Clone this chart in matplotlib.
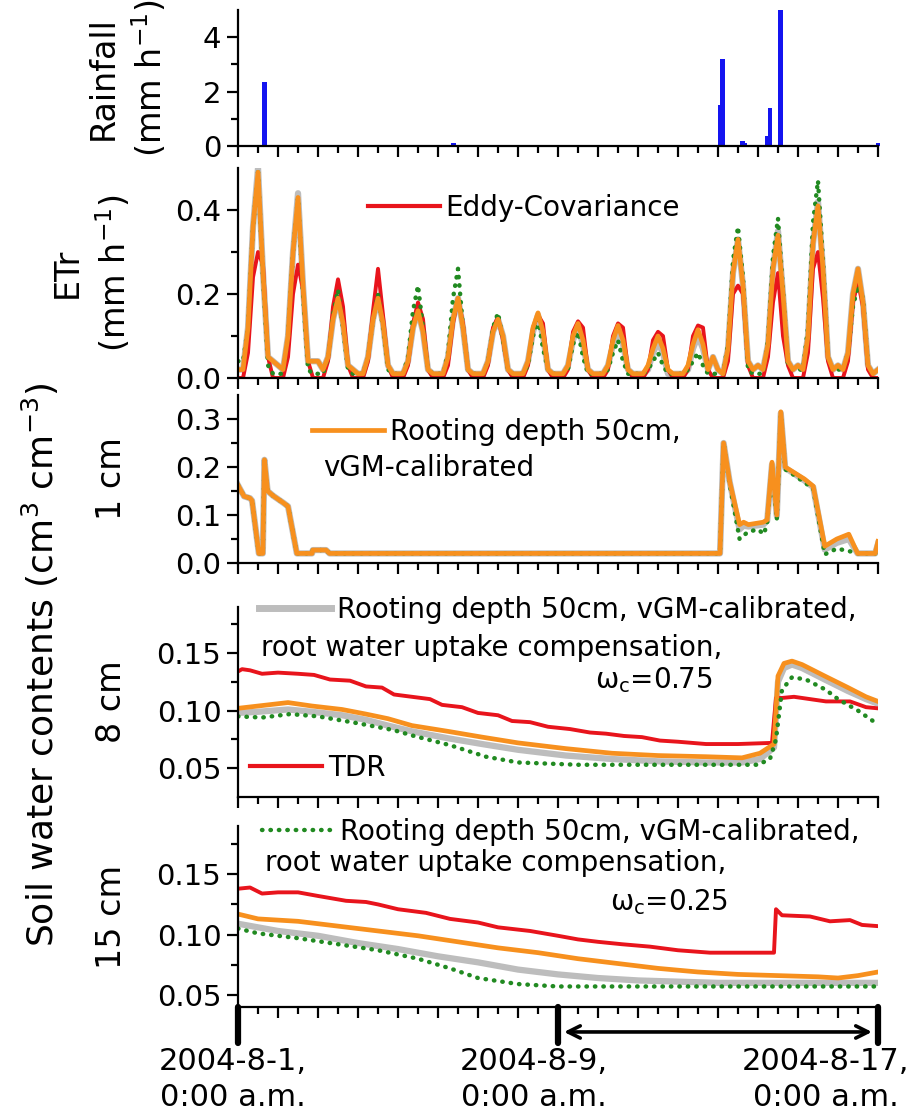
import numpy as np
import matplotlib.pyplot as plt
from matplotlib.lines import Line2D

plt.rcParams['font.family'] = ['DejaVu Sans']
plt.rcParams['mathtext.default'] = 'regular'

# colours of the series
c_rain = '#1414f0'
c_ec = '#e8141c'
c_gray = '#bdbdbd'
c_orange = '#f7901e'
c_green = '#218a21'

# ---------------- data (time in days since 2004-8-1 0:00) ----------------
rain_time = [0.00, 0.66, 5.38, 12.03, 12.07, 12.12, 12.62, 12.67, 13.24, 13.30, 13.56, 16.00]
rain_mm = [0.05, 2.35, 0.10, 0.05, 1.50, 3.20, 0.20, 0.10, 0.35, 1.40, 5.00, 0.10]

# ETr, 3-hourly, hours 0,3,...,21 of each day, last value = day 16 0:00
etr_hours = [0, 3, 6, 9, 12, 15, 18, 21]
etr_ec = [
    0.00, 0.00, 0.06, 0.24, 0.30, 0.27, 0.05, 0.00,
    0.00, 0.00, 0.05, 0.20, 0.27, 0.21, 0.04, 0.00,
    0.00, 0.00, 0.04, 0.17, 0.235, 0.17, 0.03, 0.00,
    0.00, 0.00, 0.04, 0.16, 0.26, 0.15, 0.03, 0.00,
    0.00, 0.00, 0.03, 0.13, 0.18, 0.14, 0.02, 0.00,
    0.00, 0.00, 0.03, 0.13, 0.19, 0.13, 0.02, 0.00,
    0.00, 0.00, 0.03, 0.12, 0.145, 0.09, 0.02, 0.00,
    0.00, 0.00, 0.03, 0.12, 0.15, 0.13, 0.02, 0.00,
    0.00, 0.00, 0.02, 0.11, 0.135, 0.12, 0.02, 0.00,
    0.00, 0.00, 0.02, 0.10, 0.13, 0.12, 0.02, 0.00,
    0.00, 0.00, 0.02, 0.09, 0.11, 0.10, 0.02, 0.00,
    0.00, 0.00, 0.02, 0.10, 0.125, 0.12, 0.02, 0.00,
    0.00, 0.00, 0.04, 0.20, 0.22, 0.20, 0.03, 0.00,
    0.00, 0.00, 0.05, 0.18, 0.25, 0.10, 0.03, 0.00,
    0.00, 0.00, 0.06, 0.26, 0.30, 0.19, 0.04, 0.00,
    0.00, 0.00, 0.04, 0.18, 0.23, 0.17, 0.02, 0.00,
    0.00,
]
etr_gray = [
    0.02, 0.02, 0.12, 0.36, 0.50, 0.25, 0.05, 0.04,
    0.03, 0.02, 0.10, 0.30, 0.44, 0.22, 0.04, 0.04,
    0.04, 0.02, 0.05, 0.14, 0.19, 0.13, 0.03, 0.02,
    0.01, 0.01, 0.05, 0.14, 0.19, 0.13, 0.03, 0.01,
    0.01, 0.01, 0.04, 0.12, 0.16, 0.11, 0.02, 0.01,
    0.01, 0.01, 0.05, 0.14, 0.19, 0.12, 0.02, 0.01,
    0.01, 0.01, 0.04, 0.11, 0.14, 0.10, 0.02, 0.01,
    0.01, 0.01, 0.04, 0.11, 0.15, 0.10, 0.02, 0.01,
    0.01, 0.01, 0.03, 0.09, 0.12, 0.08, 0.02, 0.01,
    0.01, 0.01, 0.03, 0.08, 0.11, 0.08, 0.02, 0.01,
    0.01, 0.01, 0.02, 0.06, 0.085, 0.06, 0.01, 0.01,
    0.01, 0.01, 0.02, 0.07, 0.10, 0.07, 0.02, 0.05,
    0.02, 0.01, 0.07, 0.25, 0.33, 0.22, 0.04, 0.02,
    0.03, 0.02, 0.08, 0.26, 0.35, 0.20, 0.04, 0.02,
    0.03, 0.02, 0.10, 0.32, 0.42, 0.26, 0.05, 0.02,
    0.03, 0.02, 0.06, 0.20, 0.26, 0.18, 0.03, 0.01,
    0.02,
]
etr_orange = [
    0.02, 0.02, 0.12, 0.36, 0.49, 0.25, 0.05, 0.04,
    0.03, 0.02, 0.10, 0.30, 0.43, 0.22, 0.04, 0.04,
    0.04, 0.02, 0.05, 0.14, 0.19, 0.13, 0.03, 0.02,
    0.01, 0.01, 0.05, 0.14, 0.19, 0.13, 0.03, 0.01,
    0.01, 0.01, 0.04, 0.12, 0.16, 0.11, 0.02, 0.01,
    0.01, 0.01, 0.05, 0.14, 0.19, 0.12, 0.02, 0.01,
    0.01, 0.01, 0.04, 0.11, 0.14, 0.10, 0.02, 0.01,
    0.01, 0.01, 0.04, 0.12, 0.155, 0.11, 0.02, 0.01,
    0.01, 0.01, 0.03, 0.10, 0.13, 0.09, 0.02, 0.01,
    0.01, 0.01, 0.03, 0.09, 0.125, 0.09, 0.02, 0.01,
    0.01, 0.01, 0.03, 0.07, 0.10, 0.07, 0.02, 0.01,
    0.01, 0.01, 0.03, 0.08, 0.115, 0.08, 0.02, 0.05,
    0.02, 0.01, 0.07, 0.25, 0.33, 0.22, 0.04, 0.02,
    0.03, 0.02, 0.08, 0.26, 0.34, 0.20, 0.04, 0.02,
    0.03, 0.02, 0.10, 0.32, 0.41, 0.26, 0.05, 0.02,
    0.03, 0.02, 0.06, 0.20, 0.26, 0.18, 0.03, 0.01,
    0.02,
]
etr_green = [
    0.04, 0.04, 0.12, 0.36, 0.49, 0.24, 0.03, 0.01,
    0.01, 0.01, 0.10, 0.30, 0.43, 0.20, 0.02, 0.01,
    0.01, 0.01, 0.05, 0.15, 0.21, 0.12, 0.02, 0.01,
    0.01, 0.01, 0.05, 0.14, 0.20, 0.12, 0.02, 0.01,
    0.01, 0.01, 0.05, 0.16, 0.22, 0.12, 0.02, 0.01,
    0.01, 0.01, 0.06, 0.19, 0.26, 0.12, 0.02, 0.01,
    0.01, 0.01, 0.04, 0.12, 0.155, 0.09, 0.02, 0.01,
    0.01, 0.01, 0.03, 0.10, 0.14, 0.07, 0.02, 0.01,
    0.01, 0.01, 0.02, 0.08, 0.11, 0.05, 0.01, 0.01,
    0.01, 0.01, 0.02, 0.06, 0.09, 0.04, 0.01, 0.01,
    0.01, 0.01, 0.02, 0.04, 0.06, 0.03, 0.01, 0.01,
    0.01, 0.01, 0.02, 0.04, 0.06, 0.03, 0.01, 0.01,
    0.01, 0.01, 0.08, 0.28, 0.36, 0.24, 0.02, 0.01,
    0.01, 0.01, 0.09, 0.29, 0.38, 0.21, 0.03, 0.02,
    0.02, 0.02, 0.12, 0.37, 0.47, 0.28, 0.05, 0.02,
    0.02, 0.02, 0.06, 0.17, 0.22, 0.19, 0.03, 0.01,
    0.01,
]
etr_time = [d + h / 24 for d in range(16) for h in etr_hours] + [16]

# soil water content at 1 cm
sw1_orange_t = [0.00, 0.15, 0.30, 0.35, 0.52, 0.62, 0.66, 0.74, 0.88, 1.14, 1.25, 1.47,
                1.85, 1.87, 2.20, 2.29, 12.05, 12.14, 12.29, 12.54, 12.64, 12.76, 13.13,
                13.23, 13.35, 13.47, 13.57, 13.68, 13.87, 14.16, 14.38, 14.67, 14.97,
                15.27, 15.49, 15.93, 16.00]
sw1_orange = [0.162, 0.139, 0.135, 0.130, 0.020, 0.020, 0.215, 0.150, 0.140, 0.125, 0.118,
              0.020, 0.020, 0.027, 0.027, 0.020, 0.020, 0.250, 0.170, 0.080, 0.085, 0.080,
              0.085, 0.090, 0.210, 0.100, 0.315, 0.200, 0.190, 0.175, 0.160, 0.035, 0.050,
              0.060, 0.020, 0.020, 0.045]
sw1_gray = [0.162, 0.139, 0.135, 0.130, 0.020, 0.020, 0.215, 0.150, 0.140, 0.125, 0.118,
            0.020, 0.020, 0.027, 0.027, 0.020, 0.020, 0.250, 0.170, 0.070, 0.078, 0.076,
            0.080, 0.088, 0.205, 0.098, 0.312, 0.198, 0.188, 0.172, 0.158, 0.028, 0.042,
            0.050, 0.020, 0.020, 0.040]
sw1_green_t = [0.00, 0.15, 0.30, 0.35, 0.52, 0.62, 0.66, 0.74, 0.88, 1.14, 1.25, 1.47,
               1.85, 1.87, 2.20, 2.29, 12.05, 12.14, 12.29, 12.54, 12.75, 13.00, 13.15,
               13.23, 13.35, 13.47, 13.57, 13.68, 13.87, 14.16, 14.38, 14.67, 14.97,
               15.27, 15.49, 15.93, 16.00]
sw1_green = [0.162, 0.139, 0.135, 0.130, 0.020, 0.020, 0.215, 0.150, 0.140, 0.125, 0.118,
             0.020, 0.020, 0.027, 0.027, 0.020, 0.020, 0.250, 0.165, 0.050, 0.065, 0.070,
             0.060, 0.085, 0.200, 0.090, 0.310, 0.195, 0.185, 0.168, 0.155, 0.018, 0.030,
             0.025, 0.020, 0.020, 0.030]

# soil water content at 8 cm
sw8_tdr_t = [0.0, 0.1, 0.3, 0.6, 1.0, 1.5, 1.9, 2.3, 2.8, 3.2, 3.6, 3.9, 4.35, 4.8, 5.1,
             5.6, 6.0, 6.5, 6.85, 7.3, 7.75, 8.3, 8.8, 9.2, 9.65, 10.1, 10.55, 11.0, 11.7,
             12.5, 13.35, 13.45, 13.6, 13.9, 14.3, 14.7, 15.3, 15.7, 16.0]
sw8_tdr = [0.134, 0.136, 0.135, 0.132, 0.133, 0.132, 0.131, 0.127, 0.126, 0.121, 0.120,
           0.114, 0.112, 0.110, 0.105, 0.103, 0.098, 0.096, 0.091, 0.090, 0.086, 0.084,
           0.081, 0.080, 0.078, 0.077, 0.074, 0.073, 0.071, 0.071, 0.072, 0.111, 0.111,
           0.112, 0.110, 0.108, 0.108, 0.103, 0.102]
sw8_sim_t = [0.0, 0.5, 1.25, 1.85, 2.6, 3.2, 3.75, 4.35, 5.25, 6.1, 7.0, 8.2, 9.35, 10.5,
             11.7, 12.6, 13.05, 13.4, 13.5, 13.65, 13.85, 14.1, 14.67, 15.25, 15.7, 16.0]
sw8_orange = [0.102, 0.104, 0.107, 0.104, 0.101, 0.097, 0.093, 0.087, 0.082, 0.077, 0.072,
              0.067, 0.063, 0.061, 0.060, 0.059, 0.063, 0.071, 0.130, 0.141, 0.143, 0.140,
              0.130, 0.120, 0.112, 0.108]
sw8_gray = [0.098, 0.099, 0.101, 0.099, 0.096, 0.092, 0.087, 0.082, 0.076, 0.071, 0.066,
            0.061, 0.058, 0.056, 0.055, 0.055, 0.058, 0.068, 0.125, 0.137, 0.140, 0.137,
            0.127, 0.117, 0.110, 0.106]
sw8_green_t = [0.0, 0.6, 1.3, 2.0, 3.0, 3.9, 4.4, 5.3, 6.2, 7.0, 8.5, 13.0, 13.3, 13.45,
               13.6, 13.85, 14.2, 14.7, 15.0, 15.5, 16.0]
sw8_green = [0.095, 0.094, 0.097, 0.095, 0.089, 0.083, 0.078, 0.070, 0.060, 0.055, 0.053,
             0.053, 0.058, 0.075, 0.118, 0.129, 0.127, 0.118, 0.110, 0.100, 0.088]

# soil water content at 15 cm
sw15_tdr_t = [0.0, 0.3, 0.6, 1.0, 1.5, 2.0, 2.7, 3.2, 3.5, 4.0, 4.7, 5.3, 6.0, 6.5, 7.3,
              8.0, 8.5, 9.0, 9.6, 10.3, 11.0, 11.8, 13.4, 13.45, 13.6, 14.3, 14.8, 15.3,
              15.6, 16.0]
sw15_tdr = [0.138, 0.139, 0.134, 0.135, 0.135, 0.132, 0.128, 0.127, 0.125, 0.121, 0.118,
            0.113, 0.110, 0.106, 0.103, 0.099, 0.096, 0.094, 0.092, 0.090, 0.087, 0.085,
            0.085, 0.121, 0.116, 0.115, 0.111, 0.112, 0.108, 0.107]
sw15_orange_t = [0.0, 0.5, 1.5, 2.5, 3.5, 4.5, 5.5, 6.5, 7.5, 8.5, 9.5, 10.5, 11.5, 12.5,
                 13.5, 14.5, 15.0, 15.5, 16.0]
sw15_orange = [0.117, 0.113, 0.111, 0.107, 0.103, 0.099, 0.094, 0.089, 0.085, 0.080, 0.076,
               0.072, 0.069, 0.067, 0.066, 0.065, 0.064, 0.066, 0.069]
sw15_gray_t = [0, 1, 2, 3, 4, 5, 6, 7, 8, 9, 10, 11, 12, 16]
sw15_gray = [0.109, 0.103, 0.099, 0.093, 0.088, 0.082, 0.077, 0.071, 0.067, 0.064, 0.062,
             0.061, 0.060, 0.060]
sw15_green_t = [0.0, 0.5, 1.5, 2.5, 3.5, 4.5, 5.3, 6.0, 7.0, 8.0, 9.0, 16.0]
sw15_green = [0.105, 0.101, 0.097, 0.092, 0.087, 0.080, 0.072, 0.064, 0.059, 0.057, 0.057,
              0.057]

date_ticks = [0, 8, 16]
date_label_pos = [-0.12, 7.4, 14.7]
date_labels = ['2004-8-1,\n0:00 a.m.', '2004-8-9,\n0:00 a.m.', '2004-8-17,\n0:00 a.m.']

# ---------------- figure ----------------
fig = plt.figure(figsize=(9.24, 11.18), dpi=100)
L, W = 0.2576, 0.6926
ax_r = fig.add_axes([L, 0.8694, W, 0.1216])
ax_e = fig.add_axes([L, 0.6619, W, 0.1878])
ax_1 = fig.add_axes([L, 0.4964, W, 0.1503])
ax_8 = fig.add_axes([L, 0.2871, W, 0.1700])
ax_15 = fig.add_axes([L, 0.0993, W, 0.1619])

TICK_FS = 21
LAB_FS = 24
LEG_FS = 20

dot = (0, (0.1, 1.8))


def style(ax, ylim, major, labels, minor):
    ax.set_xlim(0, 16)
    ax.set_ylim(*ylim)
    for s in ['top', 'right']:
        ax.spines[s].set_visible(False)
    for s in ['left', 'bottom']:
        ax.spines[s].set_linewidth(1.6)
    ax.set_xticks(np.arange(0, 17, 1))
    ax.set_xticks(np.arange(0.5, 16, 1), minor=True)
    ax.set_yticks(major)
    ax.set_yticklabels(labels)
    ax.set_yticks(minor, minor=True)
    ax.tick_params(which='major', length=8, width=1.6, labelsize=TICK_FS, pad=4)
    ax.tick_params(which='minor', length=5, width=1.6)
    ax.tick_params(axis='x', labelbottom=False)
    ax.patch.set_alpha(0)


def ylab(ax, text, x):
    # x given in figure pixels from the left edge
    ax.text((x - 238) / 640, 0.5, text, transform=ax.transAxes, rotation=90,
            ha='center', va='center', fontsize=LAB_FS, linespacing=1.35)


def leg(ax, handle, label, anchor):
    return ax.legend(handles=[handle], labels=[label], loc='center left',
                     bbox_to_anchor=anchor, frameon=False, fontsize=LEG_FS,
                     handlelength=2.6, handletextpad=0.2, borderpad=0,
                     borderaxespad=0)


# Rainfall
ax_r.bar(rain_time, rain_mm, width=0.12, color=c_rain, clip_on=False)
style(ax_r, (0, 5), [0, 2, 4], ['0', '2', '4'], [1, 3])
ylab(ax_r, 'Rainfall\n(mm h$^{-1}$)', 128)

# ETr
ax_e.plot(etr_time, etr_gray, color=c_gray, lw=4.5)
ax_e.plot(etr_time, etr_ec, color=c_ec, lw=2.8)
ax_e.plot(etr_time, etr_green, color=c_green, lw=3.2, ls=dot, dash_capstyle='round')
ax_e.plot(etr_time, etr_orange, color=c_orange, lw=3.4)
style(ax_e, (0, 0.5), [0, 0.2, 0.4], ['0.0', '0.2', '0.4'], [0.1, 0.3])
ylab(ax_e, 'ETr\n(mm h$^{-1}$)', 92)
leg(ax_e, Line2D([], [], color=c_ec, lw=3), 'Eddy-Covariance', (0.203, 0.81))

# 1 cm
ax_1.plot(sw1_orange_t, sw1_gray, color=c_gray, lw=4.5)
ax_1.plot(sw1_green_t, sw1_green, color=c_green, lw=3.2, ls=dot, dash_capstyle='round')
ax_1.plot(sw1_orange_t, sw1_orange, color=c_orange, lw=3.4)
style(ax_1, (0, 0.35), [0, 0.1, 0.2, 0.3], ['0.0', '0.1', '0.2', '0.3'],
      [0.05, 0.15, 0.25])
ylab(ax_1, '1 cm', 111)
leg(ax_1, Line2D([], [], color=c_orange, lw=3.4), 'Rooting depth 50cm,', (0.116, 0.78))
ax_1.text(0.133, 0.565, 'vGM-calibrated', transform=ax_1.transAxes, fontsize=LEG_FS,
          va='center', ha='left')

# 8 cm
ax_8.plot(sw8_sim_t, sw8_gray, color=c_gray, lw=4.5)
ax_8.plot(sw8_tdr_t, sw8_tdr, color=c_ec, lw=2.8)
ax_8.plot(sw8_sim_t, sw8_orange, color=c_orange, lw=3.4)
ax_8.plot(sw8_green_t, sw8_green, color=c_green, lw=3.2, ls=dot, dash_capstyle='round')
style(ax_8, (0.025, 0.19), [0.05, 0.10, 0.15], ['0.05', '0.10', '0.15'],
      [0.075, 0.125, 0.175])
ylab(ax_8, '8 cm', 111)
leg8 = leg(ax_8, Line2D([], [], color=c_gray, lw=5),
           'Rooting depth 50cm, vGM-calibrated,', (0.033, 0.984))
ax_8.add_artist(leg8)
ax_8.text(0.036, 0.784, 'root water uptake compensation,', transform=ax_8.transAxes,
          fontsize=LEG_FS, va='center', ha='left')
ax_8.text(0.558, 0.615, 'ω$_c$=0.75', transform=ax_8.transAxes,
          fontsize=LEG_FS, va='center', ha='left')
leg(ax_8, Line2D([], [], color=c_ec, lw=3), 'TDR', (0.019, 0.153))

# 15 cm
ax_15.plot(sw15_gray_t, sw15_gray, color=c_gray, lw=4.5)
ax_15.plot(sw15_tdr_t, sw15_tdr, color=c_ec, lw=2.8)
ax_15.plot(sw15_orange_t, sw15_orange, color=c_orange, lw=3.4)
ax_15.plot(sw15_green_t, sw15_green, color=c_green, lw=3.2, ls=dot, dash_capstyle='round')
style(ax_15, (0.04, 0.19), [0.05, 0.10, 0.15], ['0.05', '0.10', '0.15'],
      [0.075, 0.125, 0.175])
ylab(ax_15, '15 cm', 111)
leg(ax_15, Line2D([], [], color=c_green, lw=3.2, ls=dot, dash_capstyle='round'),
    'Rooting depth 50cm, vGM-calibrated,', (0.0375, 0.967))
ax_15.text(0.042, 0.796, 'root water uptake compensation,', transform=ax_15.transAxes,
           fontsize=LEG_FS, va='center', ha='left')
ax_15.text(0.581, 0.58, 'ω$_c$=0.25', transform=ax_15.transAxes,
           fontsize=LEG_FS, va='center', ha='left')

# date marks under the bottom panel
xt = ax_15.get_xaxis_transform()
ax_15.vlines(date_ticks, -0.2, 0.0, transform=xt, color='black', lw=4.5,
             clip_on=False, capstyle='round')
ax_15.annotate('', xy=(date_ticks[2] - 0.15, -0.138), xytext=(date_ticks[1] + 0.15, -0.138),
               xycoords=xt, textcoords=xt,
               arrowprops=dict(arrowstyle='<->', lw=2.6, color='black',
                               mutation_scale=22, shrinkA=0, shrinkB=0))
for xp, lab in zip(date_label_pos, date_labels):
    ax_15.text(xp, -0.40, lab, transform=xt, ha='center', va='center',
               fontsize=22, linespacing=1.3)

fig.text(40 / 924, 1 - 665 / 1118, 'Soil water contents (cm$^{3}$ cm$^{-3}$)',
         rotation=90, ha='center', va='center', fontsize=26)

fig.savefig('out.png', dpi=100)
